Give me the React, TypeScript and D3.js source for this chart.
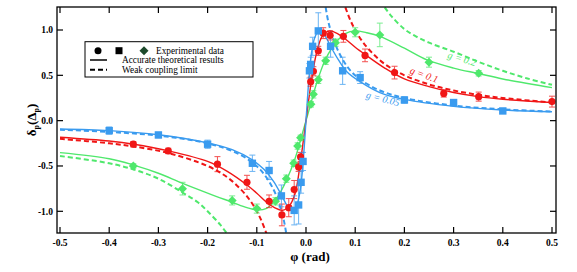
import React from "react";
import * as d3 from "d3";

// ---------- data ----------
const xTicks = [-0.5, -0.4, -0.3, -0.2, -0.1, 0.0, 0.1, 0.2, 0.3, 0.4, 0.5];
const yTicks = [-1.0, -0.5, 0.0, 0.5, 1.0];

// experimental data: [phi, delta, error]
const blueData: [number, number, number][] = [
  [-0.4, -0.11, 0.04], [-0.3, -0.158, 0.03], [-0.2, -0.26, 0.045], [-0.109, -0.47, 0.09],
  [-0.075, -0.55, 0.1], [-0.05, -0.83, 0.12], [-0.024, -0.99, 0.16], [-0.015, -0.93, 0.21],
  [-0.01, -0.68, 0.12], [-0.006, -0.45, 0.1],
  [0.007, 0.55, 0.08], [0.0095, 0.62, 0.08], [0.0135, 0.82, 0.1], [0.025, 0.99, 0.2],
  [0.05, 0.82, 0.12], [0.0745, 0.55, 0.15], [0.11, 0.475, 0.065], [0.2, 0.228, 0.035],
  [0.3, 0.2, 0.0], [0.4, 0.107, 0.0],
];
const redData: [number, number, number][] = [
  [-0.351, -0.26, 0.03], [-0.28, -0.334, 0.03], [-0.18, -0.48, 0.083], [-0.12, -0.68, 0.077],
  [-0.075, -0.89, 0.07], [-0.049, -1.04, 0.12], [-0.035, -0.96, 0.1], [-0.024, -0.76, 0.1],
  [-0.015, -0.51, 0.05], [-0.011, -0.4, 0.05],
  [0.0095, 0.43, 0.05], [0.015, 0.545, 0.05], [0.025, 0.77, 0.05], [0.035, 0.965, 0.06],
  [0.049, 0.94, 0.05], [0.076, 0.93, 0.065], [0.12, 0.72, 0.07], [0.18, 0.53, 0.07],
  [0.28, 0.3, 0.04], [0.351, 0.265, 0.05], [0.5, 0.21, 0.06],
];
const greenData: [number, number, number][] = [
  [-0.351, -0.5, 0.025], [-0.251, -0.75, 0.07], [-0.15, -0.88, 0.05], [-0.1, -0.97, 0.05],
  [-0.062, -0.89, 0.04], [-0.04, -0.64, 0.04], [-0.025, -0.47, 0.035], [-0.017, -0.28, 0.035],
  [-0.011, -0.19, 0.03],
  [0.01, 0.18, 0.03], [0.015, 0.29, 0.04], [0.025, 0.45, 0.04], [0.04, 0.66, 0.04],
  [0.06, 0.86, 0.04], [0.1, 0.975, 0.05], [0.15, 0.946, 0.13], [0.25, 0.645, 0.055],
  [0.351, 0.523, 0.03],
];

// accurate theoretical curves: [phi, delta]
const blueSolid: [number, number][] = [
  [-0.5, -0.092], [-0.4, -0.11], [-0.3, -0.155], [-0.2, -0.245], [-0.15, -0.32], [-0.11, -0.43],
  [-0.085, -0.54], [-0.066, -0.67], [-0.05, -0.82], [-0.038, -0.94], [-0.027, -1.0], [-0.018, -0.92],
  [-0.011, -0.74], [-0.0055, -0.43], [0, 0], [0.0055, 0.43], [0.011, 0.74], [0.018, 0.92],
  [0.027, 1.0], [0.038, 0.94], [0.052, 0.8], [0.066, 0.67], [0.083, 0.54], [0.11, 0.43],
  [0.15, 0.31], [0.2, 0.235], [0.3, 0.158], [0.4, 0.118], [0.5, 0.098],
];
const redSolid: [number, number][] = [
  [-0.5, -0.183], [-0.4, -0.225], [-0.35, -0.26], [-0.279, -0.334], [-0.2, -0.45], [-0.16, -0.56],
  [-0.12, -0.71], [-0.1, -0.8], [-0.08, -0.9], [-0.064, -0.96], [-0.048, -0.99], [-0.034, -0.94],
  [-0.022, -0.8], [-0.011, -0.44], [0, 0], [0.011, 0.44], [0.022, 0.76], [0.034, 0.94],
  [0.048, 0.99], [0.064, 0.96], [0.08, 0.9], [0.1, 0.81], [0.12, 0.73], [0.16, 0.58],
  [0.2, 0.46], [0.25, 0.375], [0.3, 0.31], [0.35, 0.265], [0.4, 0.236], [0.5, 0.2],
];
const greenSolid: [number, number][] = [
  [-0.5, -0.353], [-0.4, -0.42], [-0.35, -0.49], [-0.3, -0.58], [-0.252, -0.69], [-0.2, -0.8],
  [-0.15, -0.9], [-0.12, -0.96], [-0.1, -0.985], [-0.08, -0.967], [-0.06, -0.86], [-0.04, -0.66],
  [-0.022, -0.415], [-0.01, -0.19], [0, 0], [0.01, 0.19], [0.022, 0.42], [0.04, 0.68],
  [0.062, 0.87], [0.08, 0.96], [0.1, 0.99], [0.123, 0.97], [0.15, 0.93], [0.2, 0.8],
  [0.246, 0.67], [0.3, 0.58], [0.35, 0.52], [0.4, 0.46], [0.5, 0.364],
];

// weak coupling limit: two branches each
const blueDashL: [number, number][] = [
  [-0.5, -0.1], [-0.4, -0.125], [-0.3, -0.165], [-0.2, -0.25], [-0.134, -0.375], [-0.093, -0.54],
  [-0.066, -0.76], [-0.052, -0.96], [-0.045, -1.1], [-0.04, -1.25],
];
const blueDashR: [number, number][] = [
  [0.04, 1.25], [0.045, 1.1], [0.052, 0.96], [0.062, 0.81], [0.075, 0.67], [0.089, 0.56],
  [0.11, 0.455], [0.15, 0.333], [0.2, 0.25], [0.3, 0.167], [0.4, 0.125], [0.5, 0.1],
];
const redDashL: [number, number][] = [
  [-0.5, -0.2], [-0.4, -0.25], [-0.35, -0.285], [-0.28, -0.357], [-0.2, -0.5], [-0.16, -0.625],
  [-0.134, -0.75], [-0.115, -0.87], [-0.1, -1.0], [-0.09, -1.11], [-0.08, -1.25],
];
const redDashR: [number, number][] = [
  [0.08, 1.25], [0.09, 1.11], [0.1, 1.0], [0.115, 0.87], [0.134, 0.75], [0.16, 0.625],
  [0.2, 0.5], [0.25, 0.4], [0.3, 0.333], [0.35, 0.285], [0.4, 0.25], [0.5, 0.2],
];
const greenDashL: [number, number][] = [
  [-0.5, -0.39], [-0.4, -0.47], [-0.35, -0.54], [-0.3, -0.64], [-0.252, -0.79], [-0.22, -0.9],
  [-0.2, -1.0], [-0.174, -1.15], [-0.16, -1.25],
];
const greenDashR: [number, number][] = [
  [0.16, 1.25], [0.174, 1.15], [0.2, 1.01], [0.22, 0.94], [0.25, 0.86], [0.3, 0.76],
  [0.35, 0.65], [0.4, 0.55], [0.45, 0.465], [0.5, 0.395],
];

const RED = "#f01616";
const BLUE = "#3a9bef";
const GREEN = "#4fe86c";

// ---------- layout ----------
const W = 577, H = 272;
const L = 57, R = 556, T = 7, B = 233;

export default function App() {
  const x = d3.scaleLinear().domain([-0.5, 0.5]).range([60, 552]);
  const y = d3.scaleLinear().domain([-1, 1]).range([211.3, 30]);
  const line = d3
    .line<[number, number]>()
    .x((d) => x(d[0]))
    .y((d) => y(d[1]))
    .curve(d3.curveCatmullRom.alpha(0.5));

  const font = "'Liberation Serif', 'Times New Roman', serif";

  const curve = (pts: [number, number][], color: string, dashed: boolean, key: string) => (
    <path
      key={key}
      d={line(pts) || ""}
      fill="none"
      stroke={color}
      strokeWidth={dashed ? 2 : 1.4}
      strokeDasharray={dashed ? "5,3" : undefined}
    />
  );

  const errBars = (data: [number, number, number][], color: string, k: string) =>
    data
      .filter((d) => d[2] > 0)
      .map((d, i) => {
        const cx = x(d[0]);
        const y1 = y(d[1] - d[2]);
        const y2 = y(d[1] + d[2]);
        return (
          <g key={k + i} stroke={color} strokeWidth={1} opacity={0.75}>
            <line x1={cx} x2={cx} y1={y1} y2={y2} />
            <line x1={cx - 3} x2={cx + 3} y1={y1} y2={y1} />
            <line x1={cx - 3} x2={cx + 3} y1={y2} y2={y2} />
          </g>
        );
      });

  return (
    <svg
      width={W}
      height={H}
      style={{ position: "absolute", left: 0, top: 0, background: "#fff" }}
      fontFamily={font}
    >
      <defs>
        <clipPath id="plotclip">
          <rect x={L} y={T} width={R - L} height={B - T} />
        </clipPath>
      </defs>

      <g clipPath="url(#plotclip)">
        {curve(greenDashL, GREEN, true, "gdl")}
        {curve(greenDashR, GREEN, true, "gdr")}
        {curve(redDashL, RED, true, "rdl")}
        {curve(redDashR, RED, true, "rdr")}
        {curve(blueDashL, BLUE, true, "bdl")}
        {curve(blueDashR, BLUE, true, "bdr")}
        {curve(greenSolid, GREEN, false, "gs")}
        {curve(redSolid, RED, false, "rs")}
        {curve(blueSolid, BLUE, false, "bs")}

        {errBars(greenData, GREEN, "ge")}
        {errBars(redData, RED, "re")}
        {errBars(blueData, BLUE, "be")}

        {greenData.map((d, i) => {
          const cx = x(d[0]), cy = y(d[1]);
          const s = 4.5;
          return (
            <path key={"gd" + i} d={`M${cx},${cy - s}L${cx + s},${cy}L${cx},${cy + s}L${cx - s},${cy}Z`} fill={GREEN} />
          );
        })}
        {redData.map((d, i) => (
          <circle key={"rd" + i} cx={x(d[0])} cy={y(d[1])} r={3.6} fill={RED} />
        ))}
        {blueData.map((d, i) => (
          <rect key={"bd" + i} x={x(d[0]) - 3.7} y={y(d[1]) - 3.7} width={7.4} height={7.4} fill={BLUE} />
        ))}
      </g>

      {/* frame */}
      <rect x={L} y={T} width={R - L} height={B - T} fill="none" stroke="#000" strokeWidth={1.3} />

      {/* ticks */}
      {xTicks.map((t) => (
        <g key={"xt" + t} stroke="#000" strokeWidth={1.2}>
          <line x1={x(t)} x2={x(t)} y1={B} y2={B - 6} />
          <line x1={x(t)} x2={x(t)} y1={T} y2={T + 6} />
        </g>
      ))}
      {yTicks.map((t) => (
        <g key={"yt" + t} stroke="#000" strokeWidth={1.2}>
          <line x1={L} x2={L + 6} y1={y(t)} y2={y(t)} />
          <line x1={R} x2={R - 6} y1={y(t)} y2={y(t)} />
        </g>
      ))}
      {xTicks.map((t) => (
        <text key={"xl" + t} x={x(t)} y={246} textAnchor="middle" fontSize={9.5} fontWeight="bold">
          {t.toFixed(1)}
        </text>
      ))}
      {yTicks.map((t) => (
        <text key={"yl" + t} x={53} y={y(t) + 3.4} textAnchor="end" fontSize={9.5} fontWeight="bold">
          {t.toFixed(1)}
        </text>
      ))}

      {/* axis titles */}
      <text x={310} y={261} textAnchor="middle" fontSize={13} fontWeight="bold">
        φ (rad)
      </text>
      <text transform="translate(36,120) rotate(-90)" textAnchor="middle" fontSize={13} fontWeight="bold">
        δ<tspan fontSize={8} dy={3}>p</tspan>
        <tspan dy={-3}>(Δ</tspan>
        <tspan fontSize={8} dy={3}>p</tspan>
        <tspan dy={-3}>)</tspan>
      </text>

      {/* curve labels */}
      <text transform="translate(461,62) rotate(17)" textAnchor="middle" fontSize={10} fontStyle="italic" fill={GREEN}>
        g = 0.2
      </text>
      <text transform="translate(423,78) rotate(20)" textAnchor="middle" fontSize={10} fontStyle="italic" fill={RED}>
        g = 0.1
      </text>
      <text transform="translate(382,102) rotate(14)" textAnchor="middle" fontSize={10} fontStyle="italic" fill={BLUE}>
        g = 0.05
      </text>

      {/* legend */}
      <rect x={85} y={41.7} width={168} height={35.3} fill="#fff" stroke="#000" strokeWidth={1} />
      <circle cx={98} cy={50.7} r={3.5} fill="#000" />
      <rect x={115.5} y={47.2} width={7} height={7} fill="#000" />
      <path d="M144,46.2L148.5,50.7L144,55.2L139.5,50.7Z" fill="#1d4a2c" />
      <text x={156} y={54} fontSize={9.3}>Experimental data</text>
      <line x1={90} x2={107} y1={60} y2={60} stroke="#000" strokeWidth={1.5} />
      <text x={122} y={63.3} fontSize={9.3}>Accurate theoretical results</text>
      <line x1={90} x2={107} y1={69.7} y2={69.7} stroke="#000" strokeWidth={2} strokeDasharray="5,3" />
      <text x={122} y={72.8} fontSize={9.3}>Weak coupling limit</text>
    </svg>
  );
}
